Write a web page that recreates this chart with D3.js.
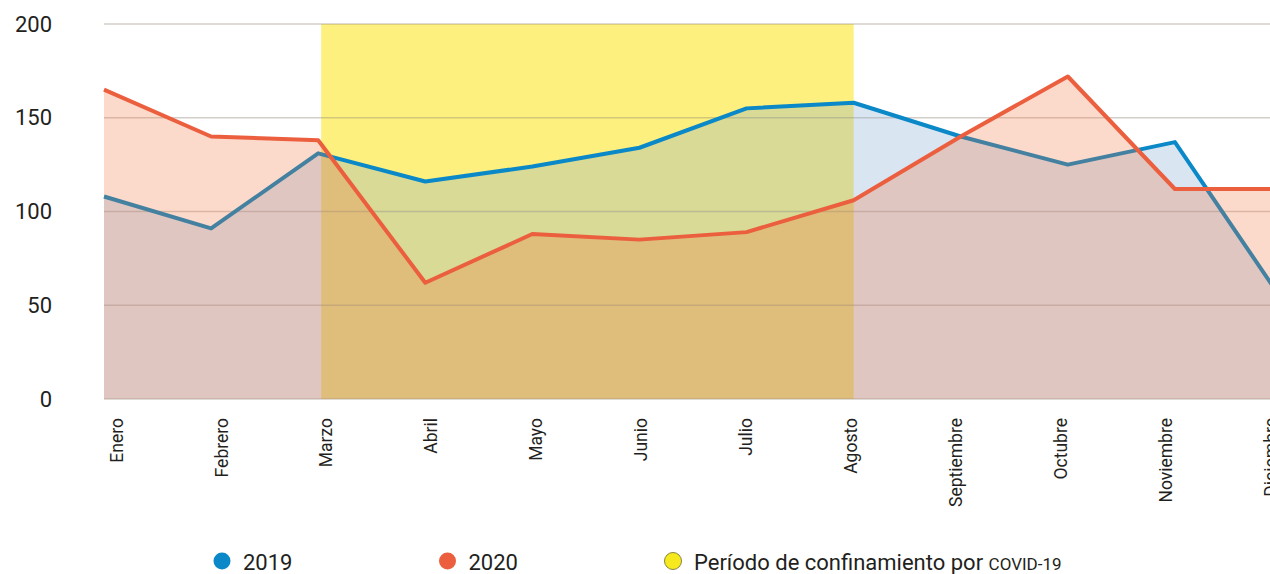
<!DOCTYPE html>
<html>
<head>
<meta charset="utf-8">
<script src="https://cdn.jsdelivr.net/npm/d3@7"></script>
<style>
  html, body { margin: 0; padding: 0; background: #fff; }
  svg { display: block; }
  .ylab text { font-family: Roboto, sans-serif; font-size: 22px; fill: #231f20; }
  .xlab text { font-family: Roboto, sans-serif; font-size: 17.5px; fill: #231f20; }
  .legend text { font-family: Roboto, sans-serif; font-size: 22px; fill: #231f20; }
</style>
</head>
<body>
<svg id="chart" width="1270" height="574"></svg>
<script>
// datos
const months = ['Enero', 'Febrero', 'Marzo', 'Abril', 'Mayo', 'Junio',
                'Julio', 'Agosto', 'Septiembre', 'Octubre', 'Noviembre', 'Diciembre'];
const values2019 = [108, 91, 131, 116, 124, 134, 155, 158, 140, 125, 137, 53];
const values2020 = [165, 140, 138, 62, 88, 85, 89, 106, 140, 172, 112, 112];
const yTicks = [0, 50, 100, 150, 200];
const lockdown = ['Marzo', 'Agosto'];
const legendLabels = ['2019', '2020', 'Período de confinamiento por COVID-19'];

const colors = { y2019: '#0a88c7', y2020: '#eb5f3f', band: '#fdf07e' };

const svg = d3.select('#chart');

// escalas
const x = d3.scalePoint().domain(months).range([104, 1282]);
const xLabel = d3.scalePoint().domain(months).range([116, 1270]);
const y = d3.scaleLinear().domain([0, 200]).range([399, 24]);

const series = months.map((m, i) => ({ m, a: values2019[i], b: values2020[i] }));

// periodo de confinamiento
svg.append('rect')
  .attr('x', x(lockdown[0]) + 3)
  .attr('y', y(200))
  .attr('width', x(lockdown[1]) - x(lockdown[0]) - 3)
  .attr('height', y(0) - y(200))
  .attr('fill', colors.band);

// rejilla
svg.append('g')
  .selectAll('line')
  .data(yTicks)
  .join('line')
    .attr('x1', x(months[0]))
    .attr('x2', 1270)
    .attr('y1', d => y(d))
    .attr('y2', d => y(d))
    .attr('stroke', 'rgba(140,130,110,0.38)')
    .attr('stroke-width', 1.6);

const area = key => d3.area()
  .x(d => x(d.m))
  .y0(y(0))
  .y1(d => y(d[key]));
const line = key => d3.line()
  .x(d => x(d.m))
  .y(d => y(d[key]));

// 2019
svg.append('path')
  .datum(series)
  .attr('d', area('a'))
  .attr('fill', 'rgb(123,162,208)')
  .attr('fill-opacity', 0.28);
svg.append('path')
  .datum(series)
  .attr('d', line('a'))
  .attr('fill', 'none')
  .attr('stroke', colors.y2019)
  .attr('stroke-width', 4)
  .attr('stroke-linejoin', 'round');

// 2020
svg.append('path')
  .datum(series)
  .attr('d', area('b'))
  .attr('fill', '#f46c30')
  .attr('fill-opacity', 0.25);
svg.append('path')
  .datum(series)
  .attr('d', line('b'))
  .attr('fill', 'none')
  .attr('stroke', colors.y2020)
  .attr('stroke-width', 4)
  .attr('stroke-linejoin', 'round');

// eje Y
svg.append('g')
  .attr('class', 'ylab')
  .attr('transform', 'translate(52,0)')
  .call(d3.axisLeft(y).tickValues(yTicks).tickSize(0).tickPadding(0))
  .call(g => g.select('.domain').remove());

// eje X
svg.append('g')
  .attr('class', 'xlab')
  .attr('transform', 'translate(0,418)')
  .call(d3.axisBottom(xLabel).tickSize(0))
  .call(g => g.select('.domain').remove())
  .selectAll('text')
    .attr('transform', 'rotate(-90)')
    .attr('x', 0)
    .attr('y', 0)
    .attr('dy', '0.35em')
    .style('text-anchor', 'end');

// leyenda
const legendColors = [colors.y2019, colors.y2020, '#f6ea1e'];
const lg = svg.append('g')
  .attr('class', 'legend')
  .selectAll('g')
  .data(legendLabels)
  .join('g')
    .attr('transform', (d, i) => `translate(${222 + i * 225.5},561)`);
lg.append('circle')
  .attr('r', 8.5)
  .attr('fill', (d, i) => legendColors[i])
  .attr('stroke', (d, i) => i === 2 ? '#8a8440' : 'none')
  .attr('stroke-width', 1);
lg.append('text')
  .attr('x', 21)
  .attr('y', 8.5)
  .each(function(d) {
    const t = d3.select(this);
    const parts = d.split('COVID-19');
    t.append('tspan').text(parts[0]);
    if (parts.length > 1) {
      t.append('tspan').style('font-size', '17px').text('COVID-19');
    }
  });
</script>
</body>
</html>
